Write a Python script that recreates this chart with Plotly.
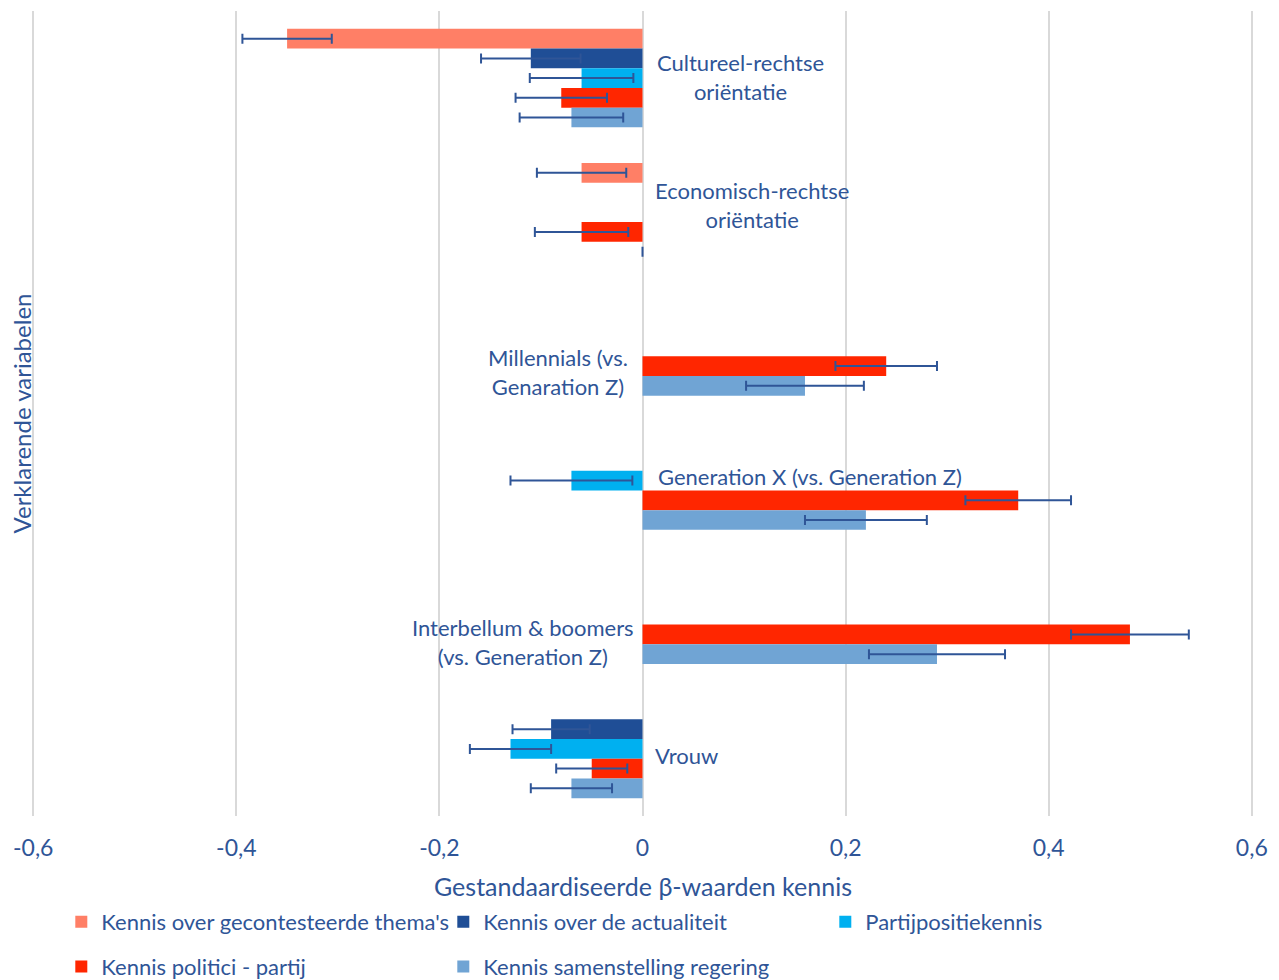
import plotly.graph_objects as go

categories = [
    "Cultureel-rechtse oriëntatie",
    "Economisch-rechtse oriëntatie",
    "Millennials (vs. Genaration Z)",
    "Generation X (vs. Generation Z)",
    "Interbellum & boomers (vs. Generation Z)",
    "Vrouw",
]
label_texts = [
    "Cultureel-rechtse<br>oriëntatie",
    "Economisch-rechtse<br>oriëntatie",
    "Millennials (vs.<br>Genaration Z)",
    "Generation X (vs. Generation Z)",
    "Interbellum & boomers<br>(vs. Generation Z)",
    "Vrouw",
]

series_names = [
    "Kennis over gecontesteerde thema's",
    "Kennis over de actualiteit",
    "Partijpositiekennis",
    "Kennis politici - partij",
    "Kennis samenstelling regering",
]
gecontesteerd = [-0.35, -0.06, None, None, None, None]
gecontesteerd_err = [0.044, 0.044, None, None, None, None]
actualiteit = [-0.11, None, None, None, None, -0.09]
actualiteit_err = [0.049, None, None, None, None, 0.038]
partijpositie = [-0.06, None, None, -0.07, None, -0.13]
partijpositie_err = [0.051, None, None, 0.06, None, 0.04]
politici = [-0.08, -0.06, 0.24, 0.37, 0.48, -0.05]
politici_err = [0.045, 0.046, 0.05, 0.052, 0.058, 0.035]
regering = [-0.07, 0.0, 0.16, 0.22, 0.29, -0.07]
regering_err = [0.051, 0.0, 0.058, 0.06, 0.067, 0.04]

tick_vals = [-0.6, -0.4, -0.2, 0, 0.2, 0.4, 0.6]
tick_text = ["-0,6", "-0,4", "-0,2", "0", "0,2", "0,4", "0,6"]

colors = ["#FF7F66", "#1F4E96", "#00B0F0", "#FF2600", "#70A4D4"]
values = [gecontesteerd, actualiteit, partijpositie, politici, regering]
errors = [gecontesteerd_err, actualiteit_err, partijpositie_err, politici_err, regering_err]
legend_ids = ["legend", "legend", "legend", "legend2", "legend2"]

TEXT = "#2F5597"
FONT = "Lato"

fig = go.Figure()
for name, vals, errs, col, lg in zip(series_names, values, errors, colors, legend_ids):
    fig.add_trace(go.Bar(
        y=categories, x=vals, name=name, orientation="h",
        marker=dict(color=col, line=dict(width=0)),
        error_x=dict(type="data", array=[e if e is not None else 0 for e in errs],
                     color=TEXT, thickness=2, width=5),
        legend=lg,
    ))

# category labels placed near the zero line
label_x = [0.0965, 0.108, -0.083, 0.165, -0.118, 0.043]
label_shift = [1, 7, -26, 4, -27, -7]
for cat, txt, lx, ys in zip(categories, label_texts, label_x, label_shift):
    fig.add_annotation(x=lx, y=cat, xref="x", yref="y", text=txt, showarrow=False,
                       yshift=ys, font=dict(family=FONT, size=22, color=TEXT),
                       align="center", xanchor="center", yanchor="middle")

fig.add_annotation(x=0.5, y=-0.087, xref="paper", yref="paper",
                   text="Gestandaardiseerde β-waarden kennis", showarrow=False,
                   font=dict(family=FONT, size=25, color=TEXT),
                   xanchor="center", yanchor="middle")
fig.add_annotation(x=-0.0082, y=0.5, xref="paper", yref="paper",
                   text="Verklarende variabelen", showarrow=False, textangle=-90,
                   font=dict(family=FONT, size=24, color=TEXT),
                   xanchor="center", yanchor="middle")

legend_common = dict(orientation="h", xanchor="left", yanchor="top",
                     entrywidth=337, entrywidthmode="pixels", itemwidth=30,
                     font=dict(family=FONT, size=22, color=TEXT),
                     bgcolor="rgba(0,0,0,0)", traceorder="normal")

fig.update_layout(
    width=1271, height=972,
    margin=dict(l=24, r=26, t=3, b=164, autoexpand=False),
    paper_bgcolor="white", plot_bgcolor="white",
    barmode="group", bargap=0.266, bargroupgap=0,
    font=dict(family=FONT, size=22, color=TEXT),
    xaxis=dict(range=[-0.6012, 0.6012], tickvals=tick_vals, ticktext=tick_text,
               showgrid=True, gridcolor="#D9D9D9", gridwidth=2,
               zeroline=False, showline=False, ticks="",
               ticklabelstandoff=16, automargin=False,
               tickfont=dict(family=FONT, size=23, color=TEXT)),
    yaxis=dict(autorange="reversed", showticklabels=False, showgrid=False,
               zeroline=False, showline=False, ticks="", automargin=False),
    legend=dict(x=0.024, y=-0.1056, **legend_common),
    legend2=dict(x=0.024, y=-0.161, **legend_common),
)

fig.write_html("out.html")
